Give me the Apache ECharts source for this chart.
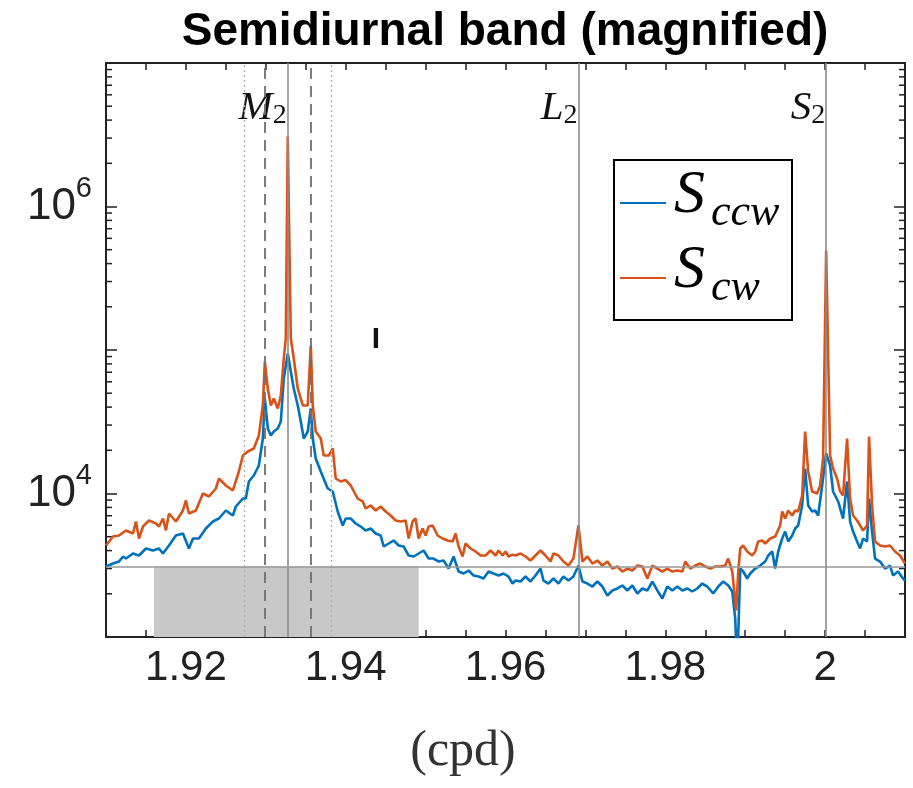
<!DOCTYPE html>
<html>
<head>
<meta charset="utf-8">
<script src="https://cdn.jsdelivr.net/npm/echarts@6/dist/echarts.min.js"></script>
<style>
  html, body { margin: 0; padding: 0; background: #fff; }
  #spectrum { width: 913px; height: 788px; }
</style>
</head>
<body>
<div id="spectrum"></div>
<script>
// clockwise spectrum (red)
const cwFreq = [
  1.91000, 1.91088, 1.91163, 1.91250, 1.91338, 1.91375, 1.91413, 1.91463, 1.91538, 1.91625,
  1.91663, 1.91713, 1.91750, 1.91788, 1.91875, 1.91963, 1.92000, 1.92038, 1.92125, 1.92213,
  1.92288, 1.92375, 1.92413, 1.92500, 1.92588, 1.92663, 1.92713, 1.92775, 1.92850, 1.92913,
  1.92963, 1.92988, 1.93025, 1.93063, 1.93100, 1.93150, 1.93188, 1.93225, 1.93250, 1.93275,
  1.93313, 1.93350, 1.93400, 1.93463, 1.93525, 1.93563, 1.93588, 1.93625, 1.93688, 1.93725,
  1.93788, 1.93838, 1.93875, 1.93938, 1.94000, 1.94063, 1.94150, 1.94213, 1.94250, 1.94313,
  1.94375, 1.94438, 1.94500, 1.94563, 1.94625, 1.94688, 1.94750, 1.94788, 1.94838, 1.94875,
  1.94913, 1.94963, 1.95000, 1.95038, 1.95088, 1.95150, 1.95213, 1.95275, 1.95338, 1.95375,
  1.95413, 1.95463, 1.95500, 1.95563, 1.95625, 1.95688, 1.95750, 1.95813, 1.95875, 1.95913,
  1.95963, 1.96000, 1.96038, 1.96088, 1.96125, 1.96188, 1.96250, 1.96313, 1.96375, 1.96438,
  1.96500, 1.96563, 1.96600, 1.96663, 1.96725, 1.96788, 1.96850, 1.96913, 1.96963, 1.97025,
  1.97088, 1.97150, 1.97213, 1.97275, 1.97338, 1.97400, 1.97463, 1.97525, 1.97588, 1.97650,
  1.97713, 1.97775, 1.97838, 1.97900, 1.97963, 1.98025, 1.98088, 1.98150, 1.98213, 1.98250,
  1.98313, 1.98375, 1.98438, 1.98500, 1.98563, 1.98625, 1.98688, 1.98750, 1.98788, 1.98838,
  1.98888, 1.98913, 1.98938, 1.98975, 1.99025, 1.99088, 1.99125, 1.99163, 1.99213, 1.99250,
  1.99313, 1.99375, 1.99438, 1.99463, 1.99500, 1.99538, 1.99588, 1.99625, 1.99663, 1.99713,
  1.99750, 1.99788, 1.99838, 1.99900, 1.99938, 1.99975, 2.00013, 2.00063, 2.00100, 2.00150,
  2.00188, 2.00225, 2.00275, 2.00313, 2.00350, 2.00400, 2.00438, 2.00475, 2.00525, 2.00550,
  2.00588, 2.00625, 2.00688, 2.00750, 2.00813, 2.00875, 2.00938, 2.01000
];
const cwPower = [
  4342, 5015, 5097, 5522, 5262, 6380, 4857, 5888, 6483, 6179,
  5888, 6694, 5522, 7256, 6380, 7613, 8939, 7256, 7613, 10000,
  9530, 10835, 12720, 11369, 10500, 14234, 18400, 19616, 20589, 25360,
  41050, 83170, 53920, 41050, 45920, 39100, 48190, 87260, 120300, 3074000,
  120300, 87260, 53920, 41050, 41050, 107500, 41050, 27050, 24167, 18400,
  18400, 20589, 12720, 12124, 12400, 11369, 9229, 8797, 7861, 8250,
  7613, 8117, 7491, 7026, 6483, 6380, 6483, 4857, 6380, 6694,
  4857, 5702, 5097, 5888, 5984, 5097, 4857, 4705, 4630, 5262,
  4272, 3639, 4483, 4137, 3943, 3697, 3697, 4007, 3697, 4007,
  3697, 3943, 3639, 3750, 3697, 3818, 3639, 3411, 3697, 4007,
  3697, 3357, 3818, 3697, 3357, 3148, 3523, 5984, 3357, 3639,
  3251, 3411, 3148, 3357, 3000, 3098, 2860, 3000, 2906, 3148,
  3098, 2556, 3148, 3000, 2860, 3000, 2860, 2906, 2860, 3357,
  3000, 3148, 3251, 3098, 3000, 3098, 3098, 3148, 3523, 2860,
  1530, 2860, 4137, 4342, 3943, 3697, 3943, 4630, 4705, 4483,
  4857, 5015, 5984, 7491, 6694, 7613, 7026, 7613, 7491, 9685,
  27050, 14234, 10325, 10000, 11369, 17537, 493500, 18400, 14937, 12720,
  10325, 9685, 24167, 9229, 7026, 6483, 5984, 5522, 5984, 24953,
  8250, 4630, 4342, 4272, 4342, 3943, 3697, 3251
];

// counter-clockwise spectrum (blue)
const ccwFreq = [
  1.91000, 1.91088, 1.91163, 1.91213, 1.91250, 1.91338, 1.91413, 1.91500, 1.91588, 1.91663,
  1.91713, 1.91788, 1.91875, 1.91963, 1.92038, 1.92088, 1.92163, 1.92250, 1.92338, 1.92413,
  1.92500, 1.92588, 1.92625, 1.92713, 1.92750, 1.92788, 1.92850, 1.92913, 1.92963, 1.92988,
  1.93025, 1.93063, 1.93100, 1.93150, 1.93188, 1.93225, 1.93275, 1.93313, 1.93350, 1.93400,
  1.93438, 1.93475, 1.93525, 1.93563, 1.93588, 1.93625, 1.93688, 1.93775, 1.93838, 1.93900,
  1.93963, 1.94000, 1.94063, 1.94125, 1.94188, 1.94250, 1.94313, 1.94375, 1.94438, 1.94475,
  1.94538, 1.94600, 1.94663, 1.94725, 1.94788, 1.94850, 1.94913, 1.94975, 1.95038, 1.95100,
  1.95163, 1.95225, 1.95288, 1.95350, 1.95413, 1.95475, 1.95538, 1.95600, 1.95663, 1.95725,
  1.95788, 1.95850, 1.95913, 1.95975, 1.96038, 1.96088, 1.96125, 1.96188, 1.96250, 1.96313,
  1.96375, 1.96438, 1.96475, 1.96538, 1.96600, 1.96663, 1.96725, 1.96788, 1.96850, 1.96913,
  1.96963, 1.97025, 1.97088, 1.97150, 1.97213, 1.97275, 1.97338, 1.97400, 1.97463, 1.97525,
  1.97588, 1.97650, 1.97713, 1.97775, 1.97838, 1.97900, 1.97963, 1.98025, 1.98088, 1.98150,
  1.98213, 1.98275, 1.98338, 1.98400, 1.98463, 1.98525, 1.98600, 1.98663, 1.98725, 1.98788,
  1.98838, 1.98875, 1.98900, 1.98938, 1.98975, 1.99025, 1.99063, 1.99125, 1.99188, 1.99250,
  1.99288, 1.99338, 1.99375, 1.99413, 1.99463, 1.99500, 1.99538, 1.99588, 1.99625, 1.99663,
  1.99713, 1.99750, 1.99788, 1.99838, 1.99875, 1.99913, 1.99963, 2.00013, 2.00063, 2.00100,
  2.00163, 2.00225, 2.00275, 2.00313, 2.00350, 2.00400, 2.00438, 2.00475, 2.00525, 2.00550,
  2.00588, 2.00625, 2.00688, 2.00750, 2.00813, 2.00850, 2.00913, 2.00975, 2.01000
];
const ccwPower = [
  3098, 3251, 3357, 3639, 3523, 3818, 3697, 4137, 4007, 4137,
  3818, 4342, 5097, 5262, 4137, 4857, 4857, 5702, 6380, 6694,
  7613, 7026, 8117, 9229, 9229, 12124, 13350, 15673, 24167, 45920,
  28378, 25360, 27050, 28378, 31746, 63300, 94540, 70830, 53920, 41050,
  31746, 24167, 27050, 39100, 24167, 17537, 14234, 10835, 10325, 7491,
  5984, 6694, 6694, 6179, 5888, 5522, 5702, 5262, 5097, 4272,
  4483, 4705, 4342, 4272, 3697, 3639, 3818, 4007, 3523, 3523,
  3357, 3411, 3000, 3639, 2860, 2770, 2906, 2683, 2639, 2556,
  2860, 2770, 2683, 2770, 2639, 2359, 2475, 2435, 2639, 2435,
  2683, 3000, 2475, 2359, 2556, 2359, 2639, 2475, 2639, 3150,
  2435, 2359, 2248, 2435, 2248, 1946, 2109, 2178, 2285, 2109,
  2285, 2009, 2178, 2109, 2435, 2109, 1855, 2248, 2109, 2248,
  2109, 2178, 2075, 2178, 2359, 2248, 2009, 2248, 2435, 2285,
  2075, 1346, 600, 3000, 2860, 2556, 2770, 3000, 3148, 3357,
  3697, 3943, 3000, 3943, 4857, 5434, 4630, 5097, 5702, 5984,
  8250, 14937, 8250, 7491, 7613, 7026, 11369, 19000, 15673, 10325,
  8797, 6694, 12124, 6380, 5434, 4630, 4137, 4857, 4630, 9229,
  5434, 3523, 3357, 3000, 3148, 2683, 2860, 2556, 2475
];

// tidal constituents and band edges (cpd)
const tideFreq = [1.93275, 1.96913, 2.00013];
const tideNames = ['M', 'L', 'S'];
const bandDashed = [1.92988, 1.93563];
const bandDotted = [1.92725, 1.93825];
const noiseLevel = 3100;
const shadeFreq = [1.916, 1.94913];
const shadePower = [1000, 3100];
const xLabelTicks = [1.92, 1.94, 1.96, 1.98, 2];
const yLabelTicks = [1e4, 1e6];

const BLUE = '#0072BD';
const RED = '#D95319';
const SANS = '"Liberation Sans", Arial, sans-serif';
const SERIF = '"Liberation Serif", "Times New Roman", serif';

const chart = echarts.init(document.getElementById('spectrum'));

function xLabel(v) {
  for (const t of xLabelTicks) {
    if (Math.abs(v - t) < 1e-6) return String(t);
  }
  return '';
}
function yLabel(v) {
  for (const t of yLabelTicks) {
    if (Math.abs(v / t - 1) < 1e-6) return '{b|10}{s|' + Math.round(Math.log10(t)) + '}';
  }
  return '';
}

const xAxisBase = {
  type: 'value', min: 1.91, max: 2.01, interval: 0.005,
  axisLine: { lineStyle: { color: '#222', width: 2 } },
  axisTick: { inside: true, length: 7, lineStyle: { color: '#222', width: 1.5 } },
  splitLine: { show: false }
};
const yAxisBase = {
  type: 'log', logBase: 10, min: 1000, max: 1e7,
  axisLine: { show: true, lineStyle: { color: '#222', width: 2 } },
  axisTick: { show: true, inside: true, length: 11, lineStyle: { color: '#222', width: 1.5 } },
  splitLine: { show: false }
};

const refLines = [];
tideFreq.forEach(f => refLines.push({ xAxis: f, lineStyle: { color: '#8c8c8c', width: 1.6, type: 'solid' } }));
bandDashed.forEach(f => refLines.push({ xAxis: f, lineStyle: { color: '#6f6f6f', width: 1.8, type: [11, 7] } }));
bandDotted.forEach(f => refLines.push({ xAxis: f, lineStyle: { color: '#b0b0b0', width: 1.3, type: [2, 3] } }));
refLines.push({ yAxis: noiseLevel, lineStyle: { color: '#999', width: 1.6, type: 'solid' } });

chart.setOption({
  animation: false,
  title: {
    text: 'Semidiurnal band (magnified)',
    left: 500, top: 4, textAlign: 'center',
    textStyle: { fontFamily: SANS, fontWeight: 'bold', fontSize: 46, color: '#000' }
  },
  grid: { left: 106, right: 8, top: 63, bottom: 151 },
  xAxis: [
    Object.assign({}, xAxisBase, {
      position: 'bottom',
      axisLabel: { formatter: xLabel, margin: 10, fontFamily: SANS, fontSize: 42, color: '#222', showMinLabel: true, showMaxLabel: true }
    }),
    Object.assign({}, xAxisBase, { position: 'top', axisLabel: { show: false } })
  ],
  yAxis: [
    Object.assign({}, yAxisBase, {
      position: 'left',
      axisLabel: {
        formatter: yLabel, margin: 14, color: '#222',
        rich: {
          b: { fontFamily: SANS, fontSize: 44, lineHeight: 64, color: '#222' },
          s: { fontFamily: SANS, fontSize: 29, lineHeight: 28, verticalAlign: 'top', color: '#222' }
        }
      }
    }),
    Object.assign({}, yAxisBase, { position: 'right', axisLabel: { show: false } })
  ],
  series: [
    {
      name: 'S_ccw', type: 'line', symbol: 'none', z: 3,
      data: ccwFreq.map((f, i) => [f, ccwPower[i]]),
      lineStyle: { color: BLUE, width: 2.6 },
      markArea: {
        silent: true,
        itemStyle: { color: '#c8c8c8' },
        data: [[{ xAxis: shadeFreq[0], yAxis: shadePower[0] }, { xAxis: shadeFreq[1], yAxis: shadePower[1] }]]
      }
    },
    {
      name: 'S_cw', type: 'line', symbol: 'none', z: 4,
      data: cwFreq.map((f, i) => [f, cwPower[i]]),
      lineStyle: { color: RED, width: 2.6 }
    },
    {
      name: 'refs', type: 'line', data: [], z: 2,
      markLine: { silent: true, precision: 6, symbol: ['none', 'none'], label: { show: false }, data: refLines }
    }
  ]
});

// minor log ticks, tide labels, legend and axis name
const g = [];
const xl = chart.convertToPixel({ xAxisIndex: 0 }, 1.91);
const xr = chart.convertToPixel({ xAxisIndex: 0 }, 2.01);
for (let d = 3; d < 7; d++) {
  for (let k = 2; k <= 9; k++) {
    const y = chart.convertToPixel({ yAxisIndex: 0 }, k * Math.pow(10, d));
    g.push({ type: 'line', silent: true, shape: { x1: xl, y1: y, x2: xl + 6, y2: y }, style: { stroke: '#222', lineWidth: 1.5 } });
    g.push({ type: 'line', silent: true, shape: { x1: xr, y1: y, x2: xr - 6, y2: y }, style: { stroke: '#222', lineWidth: 1.5 } });
  }
}
tideFreq.forEach((f, i) => {
  const x = chart.convertToPixel({ xAxisIndex: 0 }, f);
  g.push({
    type: 'text', x: x - 1, y: 108, silent: true,
    style: {
      text: '{a|' + tideNames[i] + '}{n|2}', align: 'right', verticalAlign: 'middle',
      textAlign: 'right', textVerticalAlign: 'middle',
      rich: {
        a: { fontFamily: SERIF, fontStyle: 'italic', fontSize: 41, lineHeight: 44, fill: '#111' },
        n: { fontFamily: SERIF, fontSize: 28, lineHeight: 26, verticalAlign: 'bottom', fill: '#111' }
      }
    }
  });
});
g.push({ type: 'rect', z: 100, shape: { x: 614, y: 160, width: 178, height: 160 }, style: { fill: '#fff', stroke: '#000', lineWidth: 2 } });
[[BLUE, 203, 'ccw', 196], [RED, 278, 'cw', 271]].forEach(([c, ly, sub, ty]) => {
  g.push({ type: 'line', z: 101, shape: { x1: 620, y1: ly, x2: 666, y2: ly }, style: { stroke: c, lineWidth: 2 } });
  g.push({ type: 'text', z: 101, x: 674, y: ty, style: { text: 'S', font: 'italic 62px ' + SERIF, fill: '#000', align: 'left', verticalAlign: 'middle', textAlign: 'left', textVerticalAlign: 'middle' } });
  g.push({ type: 'text', z: 101, x: 711, y: ty + 17, style: { text: sub, font: 'italic 44px ' + SERIF, fill: '#000', align: 'left', verticalAlign: 'middle', textAlign: 'left', textVerticalAlign: 'middle' } });
});
g.push({ type: 'text', x: 376, y: 340, style: { text: 'I', font: 'bold 30px ' + SANS, fill: '#111', align: 'center', verticalAlign: 'middle', textAlign: 'center', textVerticalAlign: 'middle' } });
g.push({ type: 'text', x: 463, y: 752, style: { text: '(cpd)', font: '50px ' + SERIF, fill: '#333', align: 'center', verticalAlign: 'middle', textAlign: 'center', textVerticalAlign: 'middle' } });
chart.setOption({ graphic: g });
</script>
</body>
</html>
